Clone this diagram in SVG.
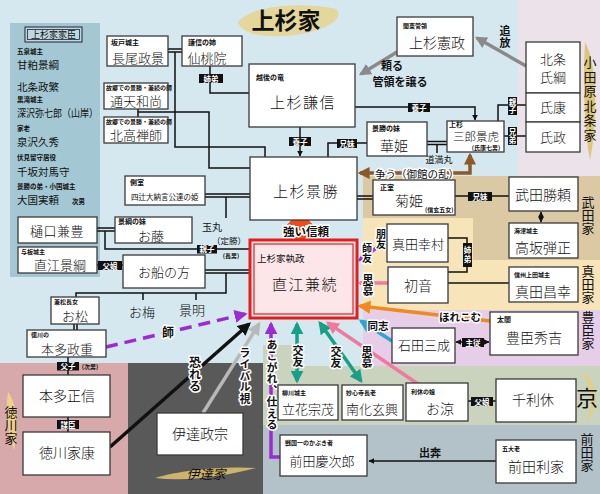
<svg xmlns="http://www.w3.org/2000/svg" width="600" height="494" viewBox="0 0 600 494">
<defs>
<style>
text{font-family:"Noto Sans CJK JP","Noto Sans",sans-serif;fill:#111}
.bx{fill:#fff;stroke:#3a3a3a;stroke-width:1.3}
.m{text-anchor:middle}
.s{font-size:7px;font-weight:bold}
.ss{font-size:6px;font-weight:bold}
.n13{font-size:13px;font-weight:300}
.n14{font-size:14px;font-weight:300}
.big{font-size:15px;letter-spacing:1.5px;font-weight:300}
.ln{fill:none;stroke:#111;stroke-width:1.5}
.lb{fill:#111}
.lt{fill:#fff;font-size:7.5px;font-weight:bold;text-anchor:middle}
.v{writing-mode:vertical-rl}
.o{paint-order:stroke;stroke:#fff;stroke-width:3;stroke-linejoin:round}
.kn{font-size:10.5px}
.ks{font-size:6.5px;font-weight:bold}
.ca{fill:none;stroke-width:3.5}
</style>
<marker id="ak" viewBox="0 0 10 10" refX="9" refY="5" markerWidth="6" markerHeight="6" markerUnits="userSpaceOnUse" orient="auto-start-reverse"><path d="M0,0L10,5L0,10z" fill="#111"/></marker>
<marker id="ak2" viewBox="0 0 10 10" refX="8" refY="5" markerWidth="13" markerHeight="13" markerUnits="userSpaceOnUse" orient="auto-start-reverse"><path d="M0,0L10,5L0,10z" fill="#111"/></marker>
<marker id="ag" viewBox="0 0 10 10" refX="8" refY="5" markerWidth="12" markerHeight="12" markerUnits="userSpaceOnUse" orient="auto-start-reverse"><path d="M0,0L10,5L0,10z" fill="#8a8a8a"/></marker>
<marker id="alg" viewBox="0 0 10 10" refX="8" refY="5" markerWidth="13" markerHeight="13" markerUnits="userSpaceOnUse" orient="auto-start-reverse"><path d="M0,0L10,5L0,10z" fill="#b8b8b8"/></marker>
<marker id="ap" viewBox="0 0 10 10" refX="8" refY="5" markerWidth="13" markerHeight="13" markerUnits="userSpaceOnUse" orient="auto-start-reverse"><path d="M0,0L10,5L0,10z" fill="#9c2bd6"/></marker>
<marker id="apk" viewBox="0 0 10 10" refX="8" refY="5" markerWidth="13" markerHeight="13" markerUnits="userSpaceOnUse" orient="auto-start-reverse"><path d="M0,0L10,5L0,10z" fill="#f2799e"/></marker>
<marker id="ao" viewBox="0 0 10 10" refX="8" refY="5" markerWidth="13" markerHeight="13" markerUnits="userSpaceOnUse" orient="auto-start-reverse"><path d="M0,0L10,5L0,10z" fill="#f08a1c"/></marker>
<marker id="ab" viewBox="0 0 10 10" refX="8" refY="5" markerWidth="13" markerHeight="13" markerUnits="userSpaceOnUse" orient="auto-start-reverse"><path d="M0,0L10,5L0,10z" fill="#2ba3d6"/></marker>
<marker id="at" viewBox="0 0 10 10" refX="8" refY="5" markerWidth="13" markerHeight="13" markerUnits="userSpaceOnUse" orient="auto-start-reverse"><path d="M0,0L10,5L0,10z" fill="#16a085"/></marker>
<marker id="abr" viewBox="0 0 10 10" refX="8" refY="5" markerWidth="12" markerHeight="12" markerUnits="userSpaceOnUse" orient="auto-start-reverse"><path d="M0,0L10,5L0,10z" fill="#8b5a2b"/></marker>
</defs>

<g id="regions">
<rect width="600" height="494" fill="#d5e7ef"/>
<rect x="518" y="0" width="82" height="176" fill="#ece3ea"/>
<path d="M363,176H600V260H473V218H363Z" fill="#dac9a3"/>
<path d="M363,218H473V260H600V310H363Z" fill="#f7e5b9"/>
<rect x="363" y="310" width="237" height="56" fill="#e6cde8"/>
<path d="M263,345H300V366H600V425H263Z" fill="#c9d3bd"/>
<rect x="263" y="425" width="337" height="69" fill="#b3c2c9"/>
<rect x="128" y="363" width="135" height="131" fill="#595959"/>
<rect x="0" y="363" width="128" height="131" fill="#d7a9aa"/>
<rect x="10" y="23" width="90" height="254" fill="#a3c8d3"/>
<path d="M238,22C250,6 300,1 336,9C346,19 322,34 282,36C256,37 241,32 238,22Z" fill="#e6d48c" opacity="0.85"/>
<path d="M585,42C597,62 598,120 590,160C584,130 583,80 585,42Z" fill="#dcc677"/>
<path d="M582,372C598,380 600,408 586,422C594,404 592,388 582,372Z" fill="#e2cf84"/>
<path d="M8,392C18,405 18,430 14,450C8,435 5,410 8,392Z" fill="#ecd28a"/>
<path d="M155,478C180,470 225,466 256,468C230,475 190,482 155,478Z" fill="#cdb46a"/>
</g>

<g id="labels">
<text x="286" y="29" class="m" font-size="23" font-weight="bold" fill="#2b4fc4">上杉家</text>
<text class="v" x="590" y="56" font-size="13" letter-spacing="1.5" fill="#4a4a30">小田原北条家</text>
<text class="v" x="588" y="196" font-size="13" fill="#2ea02e">武田家</text>
<text class="v" x="588" y="265" font-size="13" fill="#e07a20">真田家</text>
<text class="v" x="588" y="311" font-size="13" fill="#a030c0">豊臣家</text>
<text x="587" y="406" class="m" font-size="22" fill="#8a5a1a">京</text>
<text class="v" x="587" y="433" font-size="13" fill="#2a6a9a">前田家</text>
<text class="v" x="11" y="406" font-size="13" fill="#c02828">徳川家</text>
<text x="206" y="479" class="m" font-size="13" font-style="italic" fill="#f0e2a8">伊達家</text>
</g>

<g id="kashin">
<rect x="25" y="27" width="57" height="15" fill="#bcd8e0" stroke="#223" stroke-width="1"/>
<rect x="27.5" y="29.5" width="52" height="10" fill="none" stroke="#223" stroke-width="0.8"/>
<text x="53.5" y="38" class="m" font-size="9" fill="#1c2d5a">上杉家家臣</text>
<text x="17" y="54" class="ks">五泉城主</text>
<text x="17" y="69" class="kn">甘粕景綱</text>
<text x="17" y="91" class="kn">北条政繁</text>
<text x="17" y="102" class="ks">黒滝城主</text>
<text x="17" y="117" class="kn" textLength="81" lengthAdjust="spacingAndGlyphs">深沢弥七郎（山岸）</text>
<text x="17" y="131" class="ks">家老</text>
<text x="17" y="146" class="kn">泉沢久秀</text>
<text x="17" y="160" class="ks">伏見留守居役</text>
<text x="17" y="176" class="kn">千坂対馬守</text>
<text x="17" y="189" class="ks">景勝の弟・小国城主</text>
<text x="17" y="204" class="kn">大国実頼</text>
<text x="72" y="204" class="ks">次男</text>
</g>

<g id="connectors">
<path class="ln" d="M168,49H182M168,52H182"/>
<path class="ln" d="M175,52V147H265V157"/>
<path class="ln" d="M210,66V93H249"/>
<path class="ln" d="M138,109V117M138,112H209V168H250"/>
<path class="ln" d="M300,127V156" marker-end="url(#ak)"/>
<path class="ln" d="M355,107H475V120" marker-end="url(#ak)"/>
<path class="ln" d="M367,143H328V157"/>
<path class="ln" d="M427,141.5H447M427,144.5H447"/>
<path class="ln" d="M437,144.5V153"/>
<path class="ln" d="M498,121V105H526"/>
<path class="ln" d="M504,136H526"/>
<path class="ln" d="M357,196H373M357,199H373"/>
<path class="ln" d="M455,196H509"/>
<path class="ln" d="M541,212V222" marker-start="url(#ak)" marker-end="url(#ak)"/>
<path class="ln" d="M205,194H250M205,197H250"/>
<path class="ln" d="M226,197V218"/>
<path class="ln" d="M97,228H115M97,231H115"/>
<path class="ln" d="M105,231V249H250"/>
<path class="ln" d="M97,265H123"/>
<path class="ln" d="M205,270H250M205,273H250"/>
<path class="ln" d="M226,273V293H76V297M143,293V300M196,293V300"/>
<path class="ln" d="M74,324V330M77,324V330"/>
<path class="ln" d="M68,357V375M68,417V432"/>
<path class="ln" d="M448,238H467V272H448"/>
<path class="ln" d="M448,283H509"/>
<path class="ln" d="M456,342H489" marker-start="url(#ak)" marker-end="url(#ak)"/>
<path class="ln" d="M468,401H496"/>
<path class="ln" d="M496,461H369" marker-end="url(#ak)"/>

<path class="ca" d="M526,66L477,38" stroke="#8a8a8a" marker-end="url(#ag)"/>
<path class="ca" d="M397,52L361,74" stroke="#8a8a8a" marker-end="url(#ag)"/>
<path class="ca" d="M470,155V173H360" stroke="#8b5a2b" marker-start="url(#abr)" marker-end="url(#abr)"/>
<path d="M300,210L313,225H305V229H313L300,245L287,229H295V225H287Z" fill="#f04a18"/>
<path class="ca" d="M387,240L360,260" stroke="#9c2bd6" marker-end="url(#ap)"/>
<path class="ca" d="M388,283H360" stroke="#f2799e" marker-end="url(#apk)"/>
<path class="ca" d="M490,321L360,306" stroke="#f08a1c" marker-end="url(#ao)"/>
<path class="ca" d="M392,341L361,321" stroke="#2ba3d6" marker-end="url(#ab)"/>
<path class="ca" d="M297,324V381" stroke="#16a085" marker-start="url(#at)" marker-end="url(#at)"/>
<path class="ca" d="M320,323L361,381" stroke="#16a085" marker-start="url(#at)" marker-end="url(#at)"/>
<path class="ca" d="M418,384L328,323" stroke="#f2799e" marker-end="url(#apk)"/>
<path class="ca" d="M280,457H271V324" stroke="#9c2bd6" marker-end="url(#ap)"/>
<path class="ca" d="M203,413L259,324" stroke="#b8b8b8" marker-end="url(#alg)"/>
<path class="ca" d="M110,447L249,324" stroke="#111" stroke-width="3" marker-end="url(#ak2)"/>
<path class="ca" d="M106,347L245,314" stroke="#9c2bd6" stroke-dasharray="12 7" marker-end="url(#ap)"/>

<rect class="lb" x="199" y="74" width="24" height="9"/><text class="lt" x="211" y="81.5">姉弟</text>
<rect class="lb" x="289" y="137" width="22" height="9"/><text class="lt" x="300" y="144.5">養子</text>
<rect class="lb" x="408" y="103" width="22" height="9"/><text class="lt" x="419" y="110.5">養子</text>
<rect class="lb" x="337" y="139" width="20" height="9"/><text class="lt" x="347" y="146.5">兄妹</text>
<rect class="lb" x="508" y="97" width="9" height="18"/><text class="lt v" x="512.5" y="106">親子</text>
<rect class="lb" x="508" y="127" width="9" height="18"/><text class="lt v" x="512.5" y="136">兄弟</text>
<rect class="lb" x="468" y="192" width="24" height="9"/><text class="lt" x="480" y="199.5">兄妹</text>
<rect class="lb" x="463" y="243" width="9" height="24"/><text class="lt v" x="467.5" y="255" font-size="8" letter-spacing="1">姉弟</text>
<rect class="lb" x="197" y="245" width="20" height="8.5"/><text class="lt" x="207" y="252">親子</text>
<text x="231" y="258" class="m ss">(長男)</text>
<rect class="lb" x="98" y="261" width="24" height="9"/><text class="lt" x="110" y="268.5">父娘</text>
<rect class="lb" x="57" y="362" width="22" height="8.5"/><text class="lt" x="68" y="369">父子</text>
<text x="90" y="369" class="m ss">(次男)</text>
<rect class="lb" x="57" y="420" width="22" height="9"/><text class="lt" x="68" y="427.5">謀臣</text>
<rect class="lb" x="462" y="338" width="22" height="9"/><text class="lt" x="473" y="345.5">主従</text>
<rect class="lb" x="471" y="397" width="22" height="9"/><text class="lt" x="482" y="404.5">父娘</text>

<text class="v m" x="505" y="37" font-size="11" font-weight="bold" letter-spacing="1">追放</text>
<text x="392" y="70" class="m" font-size="11" font-weight="bold">頼る</text>
<text x="400" y="86" class="m" font-size="11" font-weight="bold">管領を譲る</text>
<text x="417" y="178" class="m o" font-size="10.5" fill="#8b5a2b">争う（御館の乱）</text>
<text x="439" y="163" class="m" font-size="9">道満丸</text>
<text x="212" y="231" class="m" font-size="10">玉丸</text>
<text x="229" y="244" class="m" font-size="8.5">（定勝）</text>
<text x="306" y="236" class="m o" font-size="11.5" font-weight="bold" fill="#f03a10">強い信頼</text>
<text class="v m o" x="381" y="239" font-size="10" font-weight="bold" fill="#9c2bd6">朋友</text>
<text class="v m o" x="367" y="253" font-size="10" font-weight="bold" fill="#9c2bd6">師友</text>
<text class="v m o" x="368" y="285" font-size="11" font-weight="bold" fill="#f0608a">思慕</text>
<text x="460" y="321" class="m o" font-size="10.5" font-weight="bold" fill="#f07a10">ほれこむ</text>
<text x="378" y="330" class="m o" font-size="10.5" font-weight="bold" fill="#1a90d0">同志</text>
<text class="v m o" x="298" y="356" font-size="11" font-weight="bold" fill="#129c80">交友</text>
<text class="v m o" x="336" y="357" font-size="11" font-weight="bold" fill="#129c80">交友</text>
<text class="v m o" x="367" y="357" font-size="11" font-weight="bold" fill="#f0608a">思慕</text>
<text class="v o" x="272" y="339" font-size="11" font-weight="bold" letter-spacing="0.5" fill="#b02cc8">あこがれ、仕える</text>
<text class="v o" x="245" y="347" font-size="11" font-weight="bold" letter-spacing="0.5">ライバル視</text>
<text class="v o" x="195" y="356" font-size="12" font-weight="bold">恐れる</text>
<text x="168" y="337" class="m o" font-size="12" font-weight="bold" fill="#9c2bd6">師</text>
<text x="430" y="457" class="m" font-size="11" font-weight="bold">出奔</text>
</g>

<g id="n-nagao"><rect class="bx" x="107" y="36" width="61" height="30"/><text class="s" x="111" y="45">坂戸城主</text><text class="m n13" x="138" y="63">長尾政景</text></g>
<g id="n-sentoin"><rect class="bx" x="182" y="36" width="60" height="30"/><text class="s" x="188" y="45">謙信の姉</text><text class="m n13" x="207" y="63">仙桃院</text></g>
<g id="n-tsuten"><rect class="bx" x="104" y="83" width="64" height="26"/><text class="ss" x="106" y="89.5" font-size="5.5">故郷での景勝・兼続の師</text><text class="m n13" x="136" y="106" font-size="12.5">通天和尚</text></g>
<g id="n-hokko"><rect class="bx" x="104" y="117" width="64" height="26"/><text class="ss" x="106" y="123.5" font-size="5.5">故郷での景勝・兼続の師</text><text class="m n13" x="136" y="140" font-size="12.5">北高禅師</text></g>
<g id="n-kenshin"><rect class="bx" x="249" y="64" width="106" height="63"/><text class="s" x="256" y="80" font-size="7.5">越後の竜</text><text class="m big" x="303" y="108">上杉謙信</text></g>
<g id="n-norimasa"><rect class="bx" x="397" y="17" width="76" height="39"/><text class="ss" x="403" y="28">関東管領</text><text class="m n14" x="437" y="48">上杉憲政</text></g>
<g id="n-ujitsuna"><rect class="bx" x="526" y="42" width="54" height="51"/><text class="m n13" x="553" y="64" font-size="12.5">北条</text><text class="m n13" x="553" y="82" font-size="12.5">氏綱</text></g>
<g id="n-ujiyasu"><rect class="bx" x="526" y="93" width="54" height="29"/><text class="m n13" x="553" y="112">氏康</text></g>
<g id="n-ujimasa"><rect class="bx" x="526" y="122" width="54" height="30"/><text class="m n13" x="553" y="142">氏政</text></g>
<g id="n-kagetora"><rect class="bx" x="447" y="121" width="57" height="31"/><text class="s" x="449" y="127" font-size="6.5">上杉</text><text class="m" font-size="11.5" font-weight="300" x="476" y="141">三郎景虎</text><text x="486" y="150" class="m ss" font-size="5.5">(氏康七男)</text></g>
<g id="n-hanahime"><rect class="bx" x="367" y="122" width="60" height="34"/><text class="s" x="372" y="131">景勝の妹</text><text class="m n14" x="394" y="151">華姫</text></g>
<g id="n-kagekatsu"><rect class="bx" x="250" y="157" width="107" height="63"/><text class="m big" x="306" y="197">上杉景勝</text></g>
<g id="n-sokushitsu"><rect class="bx" x="125" y="176" width="80" height="29"/><text class="s" x="130" y="185">側室</text><text x="131" y="200" font-size="7.5">四辻大納言公達の姫</text></g>
<g id="n-ofuji"><rect class="bx" x="115" y="217" width="77" height="26"/><text class="s" x="118" y="224">景綱の妹</text><text class="m n13" x="151" y="241">お藤</text></g>
<g id="n-higuchi"><rect class="bx" x="18" y="217" width="79" height="26"/><text class="m n13" x="57" y="236" letter-spacing="0.5">樋口兼豊</text></g>
<g id="n-kagetsuna"><rect class="bx" x="18" y="247" width="79" height="26"/><text class="ss" x="21" y="254">与板城主</text><text class="m n13" x="60" y="270">直江景綱</text></g>
<g id="n-osen"><rect class="bx" x="123" y="255" width="82" height="33"/><text class="m n13" x="164" y="277">お船の方</text></g>
<g id="n-oume"><text x="142" y="317" class="m n13">お梅</text></g>
<g id="n-kageaki"><text x="192" y="315" class="m n13">景明</text></g>
<g id="n-kanetsugu"><rect x="250" y="240" width="107" height="78" fill="#fde6ea" stroke="#e02020" stroke-width="3"/><rect x="254" y="244" width="99" height="70" fill="none" stroke="#e02020" stroke-width="1.2"/><text x="257" y="262" font-size="9.5">上杉家執政</text><text class="m big" x="305" y="290">直江兼続</text></g>
<g id="n-omatsu"><rect class="bx" x="51" y="297" width="48" height="27"/><text class="ss" x="54" y="304">兼松長女</text><text class="m n13" x="75" y="321">お松</text></g>
<g id="n-masashige"><rect class="bx" x="27" y="330" width="79" height="27"/><text class="ss" x="31" y="337">徳川の</text><text class="m n13" x="67" y="354">本多政重</text></g>
<g id="n-masanobu"><rect class="bx" x="23" y="375" width="87" height="42"/><text class="m n14" x="67" y="401">本多正信</text></g>
<g id="n-ieyasu"><rect class="bx" x="23" y="432" width="87" height="43"/><text class="m n14" x="67" y="458">徳川家康</text></g>
<g id="n-masamune"><rect class="bx" x="157" y="413" width="86" height="42"/><text class="m n14" x="200" y="439">伊達政宗</text></g>
<g id="n-tachibana"><rect class="bx" x="278" y="385" width="60" height="35"/><text class="ss" x="282" y="395" font-size="6.5">柳川城主</text><text class="m n13" x="308" y="414">立花宗茂</text></g>
<g id="n-nanka"><rect class="bx" x="342" y="385" width="61" height="35"/><text class="ss" x="346" y="395" font-size="6.5">妙心寺長老</text><text class="m n13" x="372" y="414">南化玄興</text></g>
<g id="n-oryo"><rect class="bx" x="406" y="383" width="62" height="38"/><text class="ss" x="411" y="394" font-size="6.5">利休の娘</text><text class="m n14" x="440" y="414">お涼</text></g>
<g id="n-rikyu"><rect class="bx" x="496" y="379" width="80" height="43"/><text class="m n14" x="533" y="405">千利休</text></g>
<g id="n-keijiro"><rect class="bx" x="280" y="435" width="87" height="41"/><text class="ss" x="285" y="445" font-size="6.5">戦国一のかぶき者</text><text class="m n13" x="322" y="466">前田慶次郎</text></g>
<g id="n-toshiie"><rect class="bx" x="496" y="440" width="80" height="43"/><text class="ss" x="502" y="451" font-size="6.5">五大老</text><text class="m n14" x="536" y="472">前田利家</text></g>
<g id="n-mitsunari"><rect class="bx" x="392" y="328" width="63" height="35"/><text class="m n13" x="424" y="350">石田三成</text></g>
<g id="n-hideyoshi"><rect class="bx" x="490" y="312" width="88" height="43"/><text class="s" x="497" y="322">太閤</text><text class="m n14" x="534" y="343">豊臣秀吉</text></g>
<g id="n-yukimura"><rect class="bx" x="387" y="224" width="61" height="38"/><text class="m n13" x="418" y="249">真田幸村</text></g>
<g id="n-hatsune"><rect class="bx" x="388" y="267" width="60" height="36"/><text class="m n14" x="418" y="291">初音</text></g>
<g id="n-kikuhime"><rect class="bx" x="373" y="180" width="82" height="35"/><text class="s" x="380" y="190">正室</text><text class="m n14" x="409" y="206">菊姫</text><text x="425" y="212" class="ss" font-size="5.5">(信玄五女)</text></g>
<g id="n-katsuyori"><rect class="bx" x="509" y="177" width="69" height="34"/><text class="m n14" x="543" y="200">武田勝頼</text></g>
<g id="n-kosaka"><rect class="bx" x="509" y="223" width="69" height="35"/><text class="ss" x="514" y="233" font-size="6.5">海津城主</text><text class="m n14" x="543" y="253">高坂弾正</text></g>
<g id="n-masayuki"><rect class="bx" x="509" y="267" width="69" height="35"/><text class="ss" x="514" y="277" font-size="6.5">信州上田城主</text><text class="m n14" x="543" y="297">真田昌幸</text></g>
</svg>
